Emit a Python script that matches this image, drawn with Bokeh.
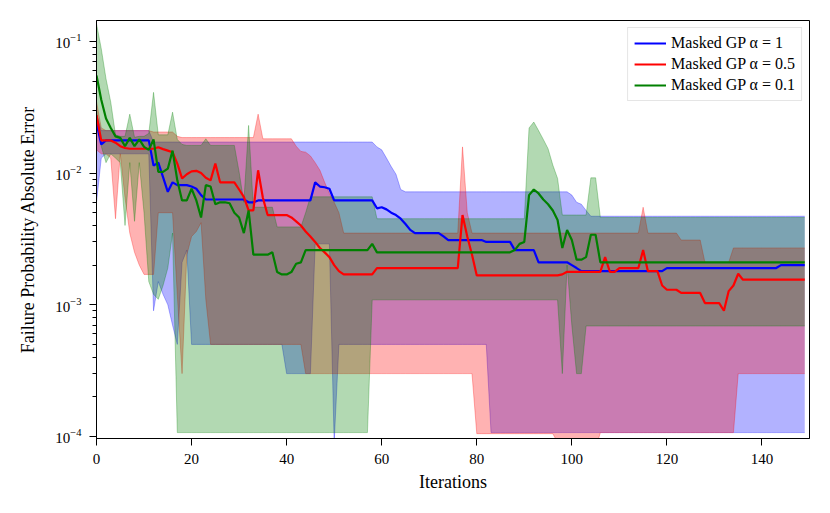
from bokeh.plotting import figure
from bokeh.models import Range1d, Legend, LegendItem, FixedTicker, LogTicker
from bokeh.embed import file_html
from bokeh.resources import INLINE

iterations = list(range(150))

# Masked GP alpha = 1 (blue)
blue_mean = [
    0.024, 0.0165, 0.0177, 0.0177, 0.0177, 0.0177, 0.0177, 0.0177, 0.0177, 0.0177,
    0.0177, 0.0177, 0.0114, 0.012, 0.0093, 0.0072, 0.0085, 0.0081, 0.0081, 0.0081,
    0.0079, 0.0076, 0.0068, 0.0063, 0.0063, 0.0063, 0.0063, 0.0063, 0.0063, 0.0063,
    0.0063, 0.0063, 0.006, 0.006, 0.0062, 0.0062, 0.0062, 0.0062, 0.0062, 0.0062,
    0.0062, 0.0062, 0.0062, 0.0062, 0.0062, 0.0062, 0.0085, 0.0079, 0.0078, 0.0076,
    0.0062, 0.0062, 0.0062, 0.0062, 0.0062, 0.0062, 0.0062, 0.0062, 0.0062, 0.0054,
    0.0055, 0.0053, 0.005, 0.0048, 0.0045, 0.0041, 0.0037, 0.0035, 0.0035, 0.0035,
    0.0035, 0.0035, 0.0035, 0.0033, 0.0031, 0.0031, 0.0031, 0.0031, 0.0031, 0.0031,
    0.0031, 0.0031, 0.003, 0.003, 0.003, 0.003, 0.003, 0.003, 0.0026, 0.0026,
    0.0026, 0.0026, 0.0026, 0.0021, 0.0021, 0.0021, 0.0021, 0.0021, 0.0021, 0.0021,
    0.002, 0.0019, 0.0018, 0.0018, 0.0018, 0.0018, 0.0018, 0.0018, 0.0018, 0.0018,
    0.0018, 0.0018, 0.0018, 0.0018, 0.0018, 0.0018, 0.0018, 0.0018, 0.0018, 0.0018,
    0.0019, 0.0019, 0.0019, 0.0019, 0.0019, 0.0019, 0.0019, 0.0019, 0.0019, 0.0019,
    0.0019, 0.0019, 0.0019, 0.0019, 0.0019, 0.0019, 0.0019, 0.0019, 0.0019, 0.0019,
    0.0019, 0.0019, 0.0019, 0.0019, 0.002, 0.002, 0.002, 0.002, 0.002, 0.002,
]
blue_upper = [
    0.028, 0.021, 0.021, 0.021, 0.021, 0.021, 0.021, 0.021, 0.021, 0.021,
    0.021, 0.021, 0.0172, 0.0172, 0.0172, 0.0172, 0.0172, 0.0172, 0.0172, 0.0172,
    0.0172, 0.0172, 0.0172, 0.0172, 0.0172, 0.0172, 0.0172, 0.0172, 0.0172, 0.0172,
    0.0172, 0.0172, 0.0172, 0.0172, 0.0172, 0.0172, 0.0172, 0.0172, 0.0172, 0.0172,
    0.0172, 0.0172, 0.0172, 0.0172, 0.0172, 0.0172, 0.0172, 0.0172, 0.0172, 0.0172,
    0.0172, 0.0172, 0.0172, 0.0172, 0.0172, 0.0172, 0.0172, 0.0172, 0.0172, 0.0158,
    0.015, 0.013, 0.0112, 0.0098, 0.0075, 0.0072, 0.0072, 0.0072, 0.0072, 0.0072,
    0.0072, 0.0072, 0.0072, 0.0072, 0.0072, 0.0072, 0.0072, 0.0072, 0.0072, 0.0072,
    0.0072, 0.0072, 0.0072, 0.0072, 0.0072, 0.0072, 0.0072, 0.0072, 0.0072, 0.0072,
    0.0072, 0.0072, 0.0072, 0.0072, 0.0072, 0.0072, 0.0072, 0.0072, 0.0072, 0.0072,
    0.0068, 0.006, 0.0058, 0.0052, 0.0047, 0.0047, 0.0047, 0.0047, 0.0047, 0.0047,
    0.0047, 0.0047, 0.0047, 0.0047, 0.0047, 0.0047, 0.0047, 0.0047, 0.0047, 0.0047,
    0.0047, 0.0047, 0.0047, 0.0047, 0.0047, 0.0047, 0.0047, 0.0047, 0.0047, 0.0047,
    0.0047, 0.0047, 0.0047, 0.0047, 0.0047, 0.0047, 0.0047, 0.0047, 0.0047, 0.0047,
    0.0047, 0.0047, 0.0047, 0.0047, 0.0047, 0.0047, 0.0047, 0.0047, 0.0047, 0.0047,
]
blue_lower = [
    0.006, 0.013, 0.014, 0.014, 0.014, 0.014, 0.014, 0.014, 0.014, 0.014,
    0.014, 0.014, 0.0009, 0.0015, 0.0012, 0.001, 0.0007, 0.0005, 0.0021, 0.0026,
    0.0005, 0.0005, 0.0005, 0.0005, 0.0005, 0.0005, 0.0005, 0.0005, 0.0005, 0.0005,
    0.0005, 0.0005, 0.0005, 0.0005, 0.0005, 0.0005, 0.0005, 0.0005, 0.0005, 0.0005,
    0.0003, 0.0003, 0.0003, 0.0003, 0.0003, 0.0003, 0.0029, 0.0029, 0.0029, 0.0029,
    0.00009, 0.0005, 0.0005, 0.0005, 0.0005, 0.0005, 0.0005, 0.0005, 0.0005, 0.0005,
    0.0005, 0.0005, 0.0005, 0.0005, 0.0005, 0.0005, 0.0005, 0.0005, 0.0005, 0.0005,
    0.0005, 0.0005, 0.0005, 0.0005, 0.0005, 0.0005, 0.0005, 0.0005, 0.0005, 0.0005,
    0.0005, 0.0005, 0.0005, 0.000107, 0.000107, 0.000107, 0.000107, 0.000107, 0.000107, 0.000107,
    0.000107, 0.000107, 0.000107, 0.000107, 0.000107, 0.000107, 0.000107, 0.000107, 0.000107, 0.000107,
    0.000107, 0.000107, 0.000107, 0.000107, 0.000107, 0.000107, 0.000107, 0.000107, 0.000107, 0.000107,
    0.000107, 0.000107, 0.000107, 0.000107, 0.000107, 0.000107, 0.000107, 0.000107, 0.000107, 0.000107,
    0.000107, 0.000107, 0.000107, 0.000107, 0.000107, 0.000107, 0.000107, 0.000107, 0.000107, 0.000107,
    0.000107, 0.000107, 0.000107, 0.000107, 0.000107, 0.000107, 0.000107, 0.000107, 0.000107, 0.000107,
    0.000107, 0.000107, 0.000107, 0.000107, 0.000107, 0.000107, 0.000107, 0.000107, 0.000107, 0.000107,
]

# Masked GP alpha = 0.5 (red)
red_mean = [
    0.0275, 0.0177, 0.0177, 0.0177, 0.017, 0.016, 0.0155, 0.0153, 0.0153, 0.0153,
    0.0153, 0.0153, 0.0153, 0.0157, 0.0152, 0.0148, 0.0144, 0.0118, 0.0091, 0.0098,
    0.0103, 0.0104, 0.01, 0.0092, 0.0088, 0.0118, 0.0085, 0.0085, 0.0085, 0.0085,
    0.0075, 0.0066, 0.0052, 0.0052, 0.0105, 0.0065, 0.0048, 0.0048, 0.0048, 0.0048,
    0.0048, 0.0046, 0.0043, 0.004, 0.0036, 0.0033, 0.003, 0.0027, 0.0025, 0.0023,
    0.002, 0.0018, 0.0017, 0.0017, 0.0017, 0.0017, 0.0017, 0.0017, 0.0017, 0.0019,
    0.0019, 0.0019, 0.0019, 0.0019, 0.0019, 0.0019, 0.0019, 0.0019, 0.0019, 0.0019,
    0.0019, 0.0019, 0.0019, 0.0019, 0.0019, 0.0019, 0.0019, 0.0048, 0.0033, 0.0024,
    0.00167, 0.00167, 0.00167, 0.00167, 0.00167, 0.00167, 0.00167, 0.00167, 0.00167, 0.00167,
    0.00167, 0.00167, 0.00167, 0.00167, 0.00167, 0.00167, 0.00167, 0.00167, 0.0017, 0.00178,
    0.00178, 0.00178, 0.00178, 0.00178, 0.00178, 0.00178, 0.00178, 0.0023, 0.00178, 0.00178,
    0.0019, 0.0019, 0.0019, 0.0019, 0.0019, 0.0026, 0.0018, 0.0018, 0.0018, 0.0014,
    0.0013, 0.0013, 0.0013, 0.00123, 0.00123, 0.00123, 0.00123, 0.00123, 0.00103, 0.00103,
    0.00103, 0.00103, 0.0009, 0.00127, 0.0014, 0.00172, 0.00155, 0.00155, 0.00155, 0.00155,
    0.00155, 0.00155, 0.00155, 0.00155, 0.00155, 0.00155, 0.00155, 0.00155, 0.00155, 0.00155,
]
red_upper = [
    0.035, 0.022, 0.021, 0.021, 0.021, 0.021, 0.021, 0.021, 0.021, 0.021,
    0.021, 0.021, 0.0205, 0.0205, 0.0205, 0.0205, 0.0205, 0.019, 0.0186, 0.0186,
    0.0186, 0.0186, 0.0186, 0.0186, 0.0186, 0.0186, 0.0186, 0.0186, 0.0186, 0.0186,
    0.0186, 0.0186, 0.0186, 0.0186, 0.028, 0.0182, 0.0182, 0.0182, 0.0182, 0.0182,
    0.0182, 0.0182, 0.016, 0.0146, 0.0144, 0.0135, 0.012, 0.0105, 0.0085, 0.007,
    0.006, 0.005, 0.0035, 0.0035, 0.0035, 0.0035, 0.0035, 0.0035, 0.0035, 0.0035,
    0.0035, 0.0035, 0.0035, 0.0035, 0.0035, 0.0035, 0.0035, 0.0035, 0.0035, 0.0035,
    0.0035, 0.0035, 0.0035, 0.0035, 0.0035, 0.0035, 0.0035, 0.0158, 0.005, 0.0035,
    0.0035, 0.0035, 0.0035, 0.0035, 0.0035, 0.0035, 0.0035, 0.0035, 0.0035, 0.0035,
    0.0035, 0.0035, 0.0035, 0.0035, 0.0035, 0.0035, 0.0035, 0.0035, 0.0035, 0.0035,
    0.0035, 0.0035, 0.0035, 0.0035, 0.0035, 0.0035, 0.0035, 0.0035, 0.0035, 0.0035,
    0.0035, 0.0035, 0.0035, 0.0035, 0.0035, 0.0055, 0.0035, 0.0035, 0.0035, 0.0035,
    0.0035, 0.0035, 0.0035, 0.0031, 0.0031, 0.0031, 0.0031, 0.0031, 0.0021, 0.0021,
    0.0021, 0.0021, 0.0021, 0.0021, 0.0027, 0.0027, 0.0027, 0.0027, 0.0027, 0.0027,
    0.0027, 0.0027, 0.0027, 0.0027, 0.0027, 0.0027, 0.0027, 0.0027, 0.0027, 0.0027,
]
red_lower = [
    0.015, 0.014, 0.014, 0.013, 0.0045, 0.014, 0.0065, 0.0035, 0.0025, 0.002,
    0.0017, 0.0017, 0.0017, 0.005, 0.005, 0.005, 0.005, 0.0012, 0.0003, 0.0024,
    0.0033, 0.0036, 0.0042, 0.0011, 0.0005, 0.0005, 0.0005, 0.0005, 0.0005, 0.0005,
    0.0005, 0.0005, 0.0005, 0.0005, 0.0005, 0.0005, 0.0005, 0.0005, 0.0005, 0.0005,
    0.0005, 0.0005, 0.0005, 0.0005, 0.0003, 0.0003, 0.0003, 0.0003, 0.0003, 0.0003,
    0.0003, 0.0003, 0.0003, 0.0003, 0.0003, 0.0003, 0.0003, 0.0003, 0.0003, 0.0003,
    0.0003, 0.0003, 0.0003, 0.0003, 0.0003, 0.0003, 0.0003, 0.0003, 0.0003, 0.0003,
    0.0003, 0.0003, 0.0003, 0.0003, 0.0003, 0.0003, 0.0003, 0.0003, 0.0003, 0.0003,
    0.000105, 0.000105, 0.000105, 0.000105, 0.000105, 0.000105, 0.000105, 0.000105, 0.000105, 0.000105,
    0.000105, 0.000105, 0.000105, 0.000105, 0.000105, 0.000105, 0.000105, 0.00009, 0.00008, 0.00008,
    0.00008, 0.00008, 0.00008, 0.00008, 0.00008, 0.00008, 0.000107, 0.000107, 0.000107, 0.000107,
    0.000107, 0.000107, 0.000107, 0.000107, 0.000107, 0.000107, 0.000107, 0.000107, 0.000107, 0.000107,
    0.000107, 0.000107, 0.000107, 0.000107, 0.000107, 0.000107, 0.000107, 0.000107, 0.000107, 0.000107,
    0.000107, 0.000107, 0.000107, 0.000107, 0.000107, 0.0003, 0.0003, 0.0003, 0.0003, 0.0003,
    0.0003, 0.0003, 0.0003, 0.0003, 0.0003, 0.0003, 0.0003, 0.0003, 0.0003, 0.0003,
]

# Masked GP alpha = 0.1 (green)
green_mean = [
    0.055, 0.036, 0.026, 0.022, 0.019, 0.0185, 0.016, 0.0185, 0.016, 0.018,
    0.0158, 0.015, 0.018, 0.0102, 0.0102, 0.0108, 0.0148, 0.0088, 0.0062, 0.0062,
    0.0076, 0.0062, 0.0046, 0.0081, 0.0079, 0.0058, 0.006, 0.006, 0.0059, 0.005,
    0.0046, 0.0035, 0.0052, 0.0024, 0.0024, 0.0024, 0.0024, 0.0025, 0.00177, 0.0017,
    0.0017, 0.00177, 0.00205, 0.0021, 0.0026, 0.0026, 0.0026, 0.0026, 0.0026, 0.0026,
    0.0026, 0.0026, 0.0026, 0.0026, 0.0026, 0.0026, 0.0026, 0.0026, 0.0029, 0.0025,
    0.0025, 0.0025, 0.0025, 0.0025, 0.0025, 0.0025, 0.0025, 0.0025, 0.0025, 0.0025,
    0.0025, 0.0025, 0.0025, 0.0025, 0.0025, 0.0025, 0.0025, 0.0025, 0.0025, 0.0025,
    0.0025, 0.0025, 0.0025, 0.0025, 0.0025, 0.0025, 0.0025, 0.0025, 0.0026, 0.0029,
    0.003, 0.0068, 0.0075, 0.007, 0.0063, 0.0058, 0.0052, 0.0044, 0.0027, 0.0037,
    0.0031, 0.0022, 0.0022, 0.0023, 0.0034, 0.0034, 0.0021, 0.0021, 0.0021, 0.0021,
    0.0021, 0.0021, 0.0021, 0.0021, 0.0021, 0.0021, 0.0021, 0.0021, 0.0021, 0.0021,
    0.0021, 0.0021, 0.0021, 0.0021, 0.0021, 0.0021, 0.0021, 0.0021, 0.0021, 0.0021,
    0.0021, 0.0021, 0.0021, 0.0021, 0.0021, 0.0021, 0.0021, 0.0021, 0.0021, 0.0021,
    0.0021, 0.0021, 0.0021, 0.0021, 0.0021, 0.0021, 0.0021, 0.0021, 0.0021, 0.0021,
]
green_upper = [
    0.136, 0.088, 0.052, 0.0345, 0.0195, 0.019, 0.019, 0.028, 0.0187, 0.019,
    0.019, 0.02, 0.041, 0.0195, 0.0195, 0.0195, 0.029, 0.018, 0.0165, 0.0162,
    0.0162, 0.0162, 0.0162, 0.0182, 0.0162, 0.0162, 0.0162, 0.0162, 0.0162, 0.0162,
    0.0102, 0.006, 0.023, 0.0055, 0.0055, 0.0055, 0.0055, 0.0055, 0.0039, 0.0039,
    0.0039, 0.0039, 0.0039, 0.0039, 0.005, 0.0066, 0.0066, 0.0066, 0.0066, 0.0066,
    0.0066, 0.0066, 0.0066, 0.0066, 0.0066, 0.0066, 0.0066, 0.0066, 0.0066, 0.0045,
    0.0045, 0.0045, 0.0045, 0.0045, 0.0045, 0.0045, 0.0045, 0.0045, 0.0045, 0.0045,
    0.0045, 0.0045, 0.0045, 0.0045, 0.0045, 0.0045, 0.0045, 0.0045, 0.0045, 0.0045,
    0.0045, 0.0045, 0.0045, 0.0045, 0.0045, 0.0045, 0.0045, 0.0045, 0.0045, 0.0045,
    0.0045, 0.022, 0.0244, 0.021, 0.018, 0.0153, 0.0115, 0.0091, 0.0048, 0.0048,
    0.0048, 0.0048, 0.0048, 0.0048, 0.0092, 0.0092, 0.0046, 0.0046, 0.0046, 0.0046,
    0.0046, 0.0046, 0.0046, 0.0046, 0.0046, 0.0046, 0.0046, 0.0046, 0.0046, 0.0046,
    0.0046, 0.0046, 0.0046, 0.0046, 0.0046, 0.0046, 0.0046, 0.0046, 0.0046, 0.0046,
    0.0046, 0.0046, 0.0046, 0.0046, 0.0046, 0.0046, 0.0046, 0.0046, 0.0046, 0.0046,
    0.0046, 0.0046, 0.0046, 0.0046, 0.0046, 0.0046, 0.0046, 0.0046, 0.0046, 0.0046,
]
green_lower = [
    0.03, 0.016, 0.012, 0.014, 0.013, 0.012, 0.004, 0.012, 0.0043, 0.012,
    0.005, 0.0015, 0.0012, 0.0011, 0.0014, 0.0019, 0.0035, 0.000107, 0.000107, 0.000107,
    0.000107, 0.000107, 0.000107, 0.000107, 0.000107, 0.000107, 0.000107, 0.000107, 0.000107, 0.000107,
    0.000107, 0.000107, 0.000107, 0.000107, 0.000107, 0.000107, 0.000107, 0.000107, 0.000107, 0.000107,
    0.000107, 0.000107, 0.000107, 0.000107, 0.000107, 0.000107, 0.000107, 0.000107, 0.000107, 0.000107,
    0.000107, 0.000107, 0.000107, 0.000107, 0.000107, 0.000107, 0.000107, 0.000107, 0.00109, 0.00109,
    0.00109, 0.00109, 0.00109, 0.00109, 0.00109, 0.00109, 0.00109, 0.00109, 0.00109, 0.00109,
    0.00109, 0.00109, 0.00109, 0.00109, 0.00109, 0.00109, 0.00109, 0.00109, 0.00109, 0.00109,
    0.00109, 0.00109, 0.00109, 0.00109, 0.00109, 0.00109, 0.00109, 0.00109, 0.00109, 0.00109,
    0.00109, 0.00109, 0.00109, 0.00109, 0.00109, 0.00109, 0.00109, 0.00109, 0.0003, 0.002,
    0.0007, 0.0003, 0.0003, 0.00069, 0.00069, 0.00069, 0.00069, 0.00069, 0.00069, 0.00069,
    0.00069, 0.00069, 0.00069, 0.00069, 0.00069, 0.00069, 0.00069, 0.00069, 0.00069, 0.00069,
    0.00069, 0.00069, 0.00069, 0.00069, 0.00069, 0.00069, 0.00069, 0.00069, 0.00069, 0.00069,
    0.00069, 0.00069, 0.00069, 0.00069, 0.00069, 0.00069, 0.00069, 0.00069, 0.00069, 0.00069,
    0.00069, 0.00069, 0.00069, 0.00069, 0.00069, 0.00069, 0.00069, 0.00069, 0.00069, 0.00069,
]

labels = ["Masked GP \u03b1 = 1", "Masked GP \u03b1 = 0.5", "Masked GP \u03b1 = 0.1"]
colors = ["#0000ff", "#ff0000", "#008000"]
x_ticks = [0, 20, 40, 60, 80, 100, 120, 140]

FONT = "Liberation Serif"

p = figure(width=822, height=505, y_axis_type="log",
           x_range=Range1d(0, 150), y_range=Range1d(9.65e-5, 0.144),
           output_backend="svg", toolbar_location=None,
           min_border_left=96, min_border_right=13,
           min_border_top=20, min_border_bottom=67)
p.grid.visible = False
p.outline_line_color = "black"
p.outline_line_width = 1
p.outline_line_alpha = 1
p.background_fill_color = "white"
p.border_fill_color = "white"

bands = [(blue_lower, blue_upper), (red_lower, red_upper), (green_lower, green_upper)]
means = [blue_mean, red_mean, green_mean]

for (lo, hi), col in zip(bands, colors):
    p.varea(x=iterations, y1=lo, y2=hi, fill_color=col, fill_alpha=0.3)
    p.line(iterations, lo, line_color=col, line_alpha=0.3, line_width=1)
    p.line(iterations, hi, line_color=col, line_alpha=0.3, line_width=1)

renderers = []
for m, col in zip(means, colors):
    r = p.line(iterations, m, line_color=col, line_width=2.2)
    renderers.append(r)

p.xaxis.ticker = FixedTicker(ticks=x_ticks)
p.yaxis.ticker = LogTicker(num_minor_ticks=10)

for ax in (p.xaxis[0], p.yaxis[0]):
    ax.axis_line_color = "black"
    ax.major_tick_line_color = "black"
    ax.minor_tick_line_color = "black"
    ax.major_tick_out = 7
    ax.major_tick_in = 0
    ax.minor_tick_out = 4
    ax.minor_tick_in = 0
    ax.major_label_text_font = FONT
    ax.major_label_text_font_size = "15px"
    ax.major_label_text_color = "black"
    ax.axis_label_text_font = FONT
    ax.axis_label_text_font_size = "18px"
    ax.axis_label_text_font_style = "normal"
    ax.axis_label_text_color = "black"

p.xaxis.axis_label = "Iterations"
p.yaxis.axis_label = "Failure Probability Absolute Error"
p.xaxis.major_label_standoff = 8
p.xaxis.axis_label_standoff = 5
p.yaxis.major_label_standoff = 8
p.yaxis.axis_label_standoff = 14

legend = Legend(items=[LegendItem(label=l, renderers=[r]) for l, r in zip(labels, renderers)],
                location="top_right")
legend.label_text_font = FONT
legend.label_text_font_size = "16px"
legend.label_text_color = "black"
legend.border_line_color = "#cccccc"
legend.border_line_width = 1
legend.background_fill_alpha = 0.8
legend.glyph_width = 32
legend.glyph_height = 18
legend.label_height = 18
legend.spacing = 3
legend.padding = 6
legend.margin = 7
p.add_layout(legend)

open("out.html", "w").write(file_html(p, INLINE))
